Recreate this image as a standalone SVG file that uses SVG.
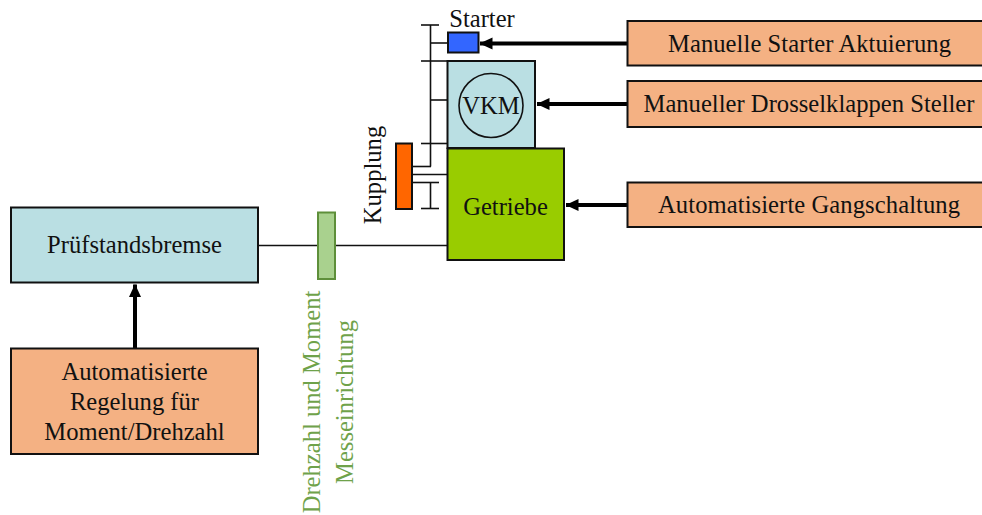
<svg xmlns="http://www.w3.org/2000/svg" width="982" height="515" viewBox="0 0 982 515">
  <style>
    .lbl { font-family: "Liberation Serif", "Times New Roman", serif; font-size: 24.6px; fill: #111; }
    .box { stroke: #111; stroke-width: 2; }
    .act { fill: #F4B183; }
    .cyan { fill: #BADFE3; }
    .shaft { stroke: #111; stroke-width: 1.6; fill: none; }
    .ctl { stroke: #000; stroke-width: 4; fill: none; }
    .green-lbl { font-family: "Liberation Serif", "Times New Roman", serif; font-size: 24.6px; fill: #6FA24A; }
  </style>
  <defs>
    <marker id="head" markerUnits="userSpaceOnUse" markerWidth="13" markerHeight="13" refX="12.5" refY="6.5" orient="auto">
      <path d="M0,0.5 L13,6.5 L0,12.5 Z" fill="#000"/>
    </marker>
  </defs>

  <rect width="982" height="515" fill="#fff"/>

  <!-- shafts and control lines -->
  <g id="connectors">
    <!-- main shaft brake - torque sensor - gearbox -->
    <line class="shaft" x1="258" y1="245.5" x2="318" y2="245.5"/>
    <line class="shaft" x1="335" y1="245.5" x2="448" y2="245.5"/>
    <!-- upper shaft with bearings -->
    <line class="shaft" x1="430.5" y1="25" x2="430.5" y2="166.5"/>
    <line class="shaft" x1="421" y1="25" x2="439" y2="25"/>
    <line class="shaft" x1="421" y1="61" x2="447" y2="61"/>
    <line class="shaft" x1="421" y1="143.5" x2="447" y2="143.5"/>
    <line class="shaft" x1="430.5" y1="43" x2="448" y2="43"/>
    <line class="shaft" x1="430.5" y1="100" x2="447" y2="100"/>
    <!-- clutch links -->
    <line class="shaft" x1="412" y1="166.5" x2="431" y2="166.5"/>
    <line class="shaft" x1="412" y1="174.5" x2="448" y2="174.5"/>
    <line class="shaft" x1="412" y1="182.5" x2="439" y2="182.5"/>
    <line class="shaft" x1="430.5" y1="182.5" x2="430.5" y2="208.5"/>
    <line class="shaft" x1="421" y1="208.5" x2="439" y2="208.5"/>
    <!-- actuation arrows -->
    <line class="ctl" x1="628" y1="43.5" x2="480" y2="43.5" marker-end="url(#head)"/>
    <line class="ctl" x1="628" y1="104" x2="537" y2="104" marker-end="url(#head)"/>
    <line class="ctl" x1="628" y1="205" x2="566" y2="205" marker-end="url(#head)"/>
    <line class="ctl" x1="135" y1="348" x2="135" y2="284.5" marker-end="url(#head)"/>
  </g>

  <g id="pruefstandsbremse">
    <rect class="box cyan" x="11" y="207.5" width="247" height="75"/>
    <text class="lbl" x="134.5" y="253" text-anchor="middle">Prüfstandsbremse</text>
  </g>

  <g id="regelung">
    <rect class="box act" x="11" y="348.5" width="247" height="105.5"/>
    <text class="lbl" x="134.5" y="380" text-anchor="middle">Automatisierte</text>
    <text class="lbl" x="134.5" y="410" text-anchor="middle">Regelung für</text>
    <text class="lbl" x="134.5" y="440" text-anchor="middle">Moment/Drehzahl</text>
  </g>

  <g id="messeinrichtung">
    <rect x="318" y="212.5" width="17" height="66.5" fill="#A9D18E" stroke="#5E8F3A" stroke-width="2"/>
    <text class="green-lbl" transform="translate(319.5,402) rotate(-90)" text-anchor="middle">Drehzahl und Moment</text>
    <text class="green-lbl" transform="translate(352.5,402) rotate(-90)" text-anchor="middle">Messeinrichtung</text>
  </g>

  <g id="kupplung">
    <rect x="396" y="143.5" width="16" height="65.5" fill="#FF6600" stroke="#111" stroke-width="2"/>
    <text class="lbl" transform="translate(381,175) rotate(-90)" text-anchor="middle">Kupplung</text>
  </g>

  <g id="starter">
    <rect x="448" y="32.5" width="30.5" height="20" fill="#3366FF" stroke="#111" stroke-width="2"/>
    <text class="lbl" x="482" y="26.5" text-anchor="middle">Starter</text>
  </g>

  <g id="vkm">
    <rect class="box cyan" x="447.5" y="61" width="87.5" height="87"/>
    <circle cx="491" cy="105.5" r="32" fill="none" stroke="#111" stroke-width="1.6"/>
    <text class="lbl" x="491" y="114" text-anchor="middle">VKM</text>
  </g>

  <g id="getriebe">
    <rect class="box" x="447.5" y="148.5" width="116.5" height="111.5" fill="#99CC00"/>
    <text class="lbl" x="505.5" y="215" text-anchor="middle">Getriebe</text>
  </g>

  <g id="starter-aktuierung">
    <rect class="box act" x="627.5" y="21" width="364" height="44.5"/>
    <text class="lbl" x="809.5" y="51.5" text-anchor="middle" textLength="283">Manuelle Starter Aktuierung</text>
  </g>

  <g id="drosselklappen-steller">
    <rect class="box act" x="627.5" y="81" width="364" height="46"/>
    <text class="lbl" x="809" y="111.5" text-anchor="middle" textLength="331">Manueller Drosselklappen Steller</text>
  </g>

  <g id="gangschaltung">
    <rect class="box act" x="627.5" y="182.5" width="364" height="44.5"/>
    <text class="lbl" x="809" y="213" text-anchor="middle" textLength="302">Automatisierte Gangschaltung</text>
  </g>
</svg>
